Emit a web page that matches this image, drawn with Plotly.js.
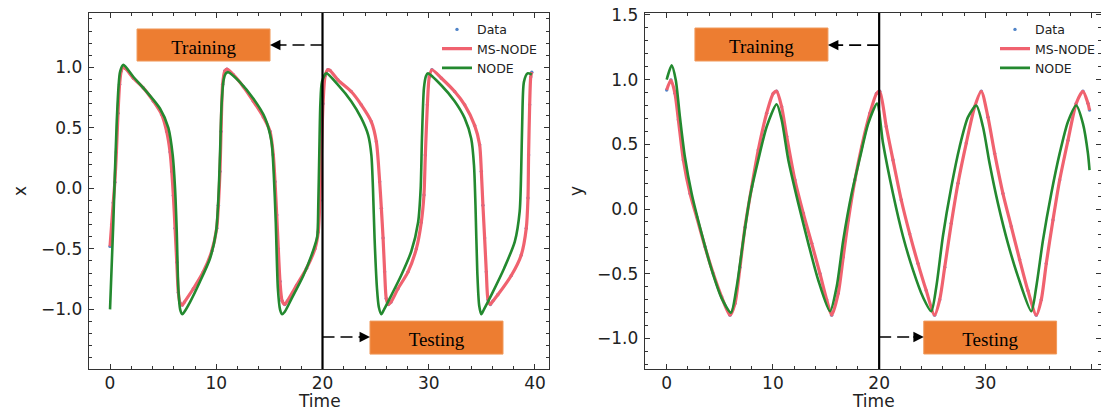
<!DOCTYPE html>
<html>
<head>
<meta charset="utf-8">
<script src="https://cdn.plot.ly/plotly-3.0.1.min.js"></script>
<style>
html,body{margin:0;padding:0;background:#fff;}
#chart{width:1101px;height:412px;}
</style>
</head>
<body>
<div id="chart"></div>
<script>
// ---- Left panel: x(t) ----
const tX = [0,0.15,0.3,0.45,0.6,0.75,0.9,1.05,1.2,1.45,2.2,3.13,4.08,4.86,5.33,5.65,5.81,5.96,6.12,6.28,6.43,6.6,6.8,7.0,7.84,8.78,9.57,10.04,10.2,10.35,10.45,10.6,10.8,11.0,11.6,12.55,13.49,14.43,15.06,15.37,15.53,15.69,15.84,16.0,16.2,16.45,16.7,17.57,18.5,19.29,19.6,19.75,19.9,20.05,20.25,20.5,20.7,21.46,22.7,23.65,24.6,25.07,25.38,25.54,25.7,25.85,26.0,26.2,26.45,27.1,28.05,28.83,29.3,29.55,29.68,29.87,30.05,30.3,31.2,32.44,33.38,34.32,34.79,34.95,35.1,35.26,35.42,35.58,35.8,36.05,36.5,37.77,38.71,39.18,39.34,39.4,39.5,39.6,39.7];
const xData = [-0.48,-0.30,-0.12,0.05,0.30,0.62,0.86,0.97,1.0,0.99,0.91,0.83,0.72,0.61,0.47,0.30,0.14,-0.06,-0.33,-0.61,-0.86,-0.95,-0.965,-0.94,-0.83,-0.69,-0.52,-0.33,-0.14,0.14,0.47,0.86,0.97,0.985,0.94,0.84,0.72,0.59,0.47,0.275,0.055,-0.22,-0.5,-0.77,-0.93,-0.96,-0.93,-0.80,-0.66,-0.50,-0.36,-0.1,0.3,0.7,0.93,0.98,0.975,0.895,0.80,0.69,0.55,0.385,0.055,-0.165,-0.41,-0.69,-0.91,-0.96,-0.94,-0.83,-0.69,-0.50,-0.28,-0.055,0.275,0.69,0.92,0.98,0.91,0.80,0.69,0.52,0.36,0.14,-0.14,-0.41,-0.69,-0.92,-0.96,-0.93,-0.88,-0.72,-0.55,-0.33,-0.08,0.275,0.69,0.92,0.96];
const xMsNode = xData.slice();
const tXNode = [0,0.31,0.63,0.94,1.25,2.2,3.13,4.7,5.49,5.9,6.12,6.28,6.43,6.6,6.8,7.0,7.53,8.47,9.41,9.98,10.2,10.35,10.5,10.7,10.9,11.13,12.2,13.5,14.6,15.2,15.4,15.6,15.8,16.0,16.2,16.45,17.1,18.2,19.1,19.5,19.6,19.7,19.8,19.95,20.36,21.5,22.7,23.65,24.3,24.6,24.75,24.9,25.13,25.3,25.54,25.8,26.5,27.4,28.36,29.0,29.24,29.36,29.55,29.75,29.93,31.2,32.44,33.38,34.0,34.26,34.4,34.57,34.75,34.95,35.2,35.9,37.1,38.1,38.56,38.7,38.8,38.96,39.3,39.7];
const xNode = [-1.0,-0.28,0.55,0.96,1.02,0.92,0.83,0.66,0.50,0.275,0.0,-0.36,-0.83,-1.0,-1.04,-1.02,-0.94,-0.77,-0.58,-0.36,-0.08,0.275,0.69,0.9,0.95,0.96,0.88,0.74,0.58,0.385,0.14,-0.28,-0.83,-1.0,-1.04,-1.02,-0.91,-0.72,-0.52,-0.4,-0.15,0.3,0.7,0.88,0.95,0.85,0.72,0.58,0.44,0.275,0.0,-0.41,-0.83,-0.98,-1.04,-1.0,-0.88,-0.72,-0.52,-0.28,0.0,0.41,0.83,0.93,0.95,0.85,0.72,0.58,0.41,0.19,-0.14,-0.69,-0.97,-1.04,-1.0,-0.88,-0.66,-0.44,-0.19,0.14,0.55,0.88,0.95,0.94];

// ---- Right panel: y(t) ----
const tY = [0,0.4,0.78,1.1,1.57,2.2,2.82,3.6,4.39,5.18,5.96,6.43,6.9,7.37,8.0,8.62,9.41,10.04,10.35,10.82,11.3,12.07,12.86,13.65,14.43,15.06,15.53,16.15,16.62,17.1,17.72,18.35,19.13,19.76,20.05,20.67,21.3,22.08,22.87,23.65,24.43,25.22,25.7,26.17,26.79,27.42,28.2,28.99,29.61,30.24,30.87,31.65,32.44,33.22,34.0,34.79,35.26,35.73,36.36,36.99,37.77,38.55,39.18,39.65,39.8];
const yData = [0.92,0.997,0.894,0.69,0.38,0.12,-0.06,-0.29,-0.50,-0.68,-0.82,-0.73,-0.45,-0.14,0.17,0.456,0.74,0.894,0.91,0.79,0.56,0.224,-0.033,-0.265,-0.50,-0.70,-0.82,-0.65,-0.37,-0.085,0.224,0.48,0.74,0.894,0.91,0.636,0.38,0.07,-0.19,-0.42,-0.63,-0.82,-0.70,-0.45,-0.11,0.2,0.51,0.79,0.91,0.71,0.43,0.12,-0.137,-0.39,-0.63,-0.82,-0.70,-0.42,-0.085,0.224,0.53,0.817,0.91,0.817,0.765];
const yMsNode = yData.slice();
const tYNode = [0,0.47,0.85,1.25,1.72,2.35,3.29,4.24,5.18,6.05,6.59,7.21,7.84,8.62,9.41,10.35,10.82,11.45,12.39,13.33,14.27,15.37,16.0,16.62,17.41,18.2,18.97,19.8,20.36,21.3,22.24,23.18,24.12,24.9,25.38,26.0,26.79,27.57,28.36,29.14,29.77,30.4,31.18,32.12,33.06,34.32,34.79,35.42,36.2,36.99,37.77,38.55,39.18,39.65,39.8];
const yNode = [1.0,1.11,1.0,0.71,0.40,0.12,-0.19,-0.47,-0.69,-0.80,-0.60,-0.24,0.095,0.38,0.636,0.81,0.69,0.38,0.044,-0.265,-0.55,-0.79,-0.60,-0.24,0.12,0.40,0.66,0.815,0.51,0.12,-0.21,-0.47,-0.68,-0.79,-0.60,-0.21,0.17,0.48,0.71,0.80,0.636,0.35,0.044,-0.265,-0.52,-0.79,-0.60,-0.24,0.12,0.43,0.675,0.80,0.66,0.43,0.30];

const seriesNames = ['Data','MS-NODE','NODE'];
const xTickVals = [0,10,20,30,40];
const splitTime = 20;
const boxLabels = ['Training','Testing'];
const axisLabels = {time:'Time', left:'x', right:'y'};

// ---- styling ----
const FONT = 'DejaVu Sans, sans-serif';
const FS = 17;
const C_DATA = 'rgba(50,110,190,0.85)';
const C_MS = '#f0626f';
const C_NODE = '#23892f';

function dataTrace(x, y, xa, ya, leg){
  return {x:x, y:y, xaxis:xa, yaxis:ya, type:'scatter', mode:'markers', name:seriesNames[0],
    legend:leg, marker:{size:3.4, color:C_DATA}};
}
function lineTrace(x, y, xa, ya, leg, name, color, w){
  return {x:x, y:y, xaxis:xa, yaxis:ya, type:'scatter', mode:'lines', name:name, legend:leg,
    line:{color:color, width:w, shape:'spline', smoothing:0.7}};
}

const traces = [
  dataTrace(tX, xData, 'x', 'y', 'legend'),
  lineTrace(tX, xMsNode, 'x', 'y', 'legend', seriesNames[1], C_MS, 3.2),
  lineTrace(tXNode, xNode, 'x', 'y', 'legend', seriesNames[2], C_NODE, 2.6),
  dataTrace(tY, yData, 'x2', 'y2', 'legend2'),
  lineTrace(tY, yMsNode, 'x2', 'y2', 'legend2', seriesNames[1], C_MS, 3.2),
  lineTrace(tYNode, yNode, 'x2', 'y2', 'legend2', seriesNames[2], C_NODE, 2.6)
];

function axisBase(){
  return {showline:true, linecolor:'#333', linewidth:1.3, mirror:'allticks',
    ticks:'inside', ticklen:5, tickwidth:1, tickcolor:'#333',
    showgrid:false, zeroline:false,
    tickfont:{family:FONT, size:FS, color:'#222'}};
}
function xAxis(domain, range, anchor){
  return Object.assign(axisBase(), {domain:domain, range:range, anchor:anchor,
    tickmode:'array', tickvals:xTickVals, ticklabelstandoff:-2,
    minor:{ticks:'inside', ticklen:3, tickcolor:'#333', dtick:2, tick0:0, showgrid:false}});
}
function yAxis(range, anchor, label){
  return Object.assign(axisBase(), {domain:[0,1], range:range, anchor:anchor,
    dtick:0.5, tick0:0, tickformat:'.1f', ticklabelstandoff:2,
    minor:{ticks:'inside', ticklen:3, tickcolor:'#333', dtick:0.1, tick0:0, showgrid:false},
    title:{text:label, font:{family:FONT, size:FS, color:'#222'}, standoff:10}});
}

// annotation boxes and arrows (positions in axis units)
const boxes = [
  {xa:'x', ya:'y', text:boxLabels[0], x0:2.54, x1:15.06, y0:1.052, y1:1.317, ay:1.184, dir:-1},
  {xa:'x', ya:'y', text:boxLabels[1], x0:24.47, x1:36.99, y0:-1.37, y1:-1.097, ay:-1.229, dir:1},
  {xa:'x2', ya:'y2', text:boxLabels[0], x0:2.66, x1:15.18, y0:1.144, y1:1.399, ay:1.267, dir:-1},
  {xa:'x2', ya:'y2', text:boxLabels[1], x0:24.2, x1:36.7, y0:-1.12, y1:-0.866, ay:-0.989, dir:1}
];

const shapes = [];
const annotations = [];
['x','x2'].forEach(function(xa, i){
  const ya = i === 0 ? 'y' : 'y2';
  shapes.push({type:'line', xref:xa, yref:ya+' domain', x0:splitTime, x1:splitTime, y0:0, y1:1,
    line:{color:'#000', width:2.2}});
  // "Time" axis label, placed under the axis centre
  annotations.push({xref:xa+' domain', yref:'paper', x:0.5, y:-0.1208, yanchor:'bottom', xanchor:'center',
    borderpad:0, text:axisLabels.time, showarrow:false, font:{family:FONT, size:FS, color:'#222'}});
});
boxes.forEach(function(b){
  shapes.push({type:'rect', xref:b.xa, yref:b.ya, x0:b.x0, x1:b.x1, y0:b.y0, y1:b.y1,
    fillcolor:'#ED7D31', line:{color:'#f09a5c', width:1}, layer:'above',
    label:{text:b.text, font:{family:'Liberation Serif, Times New Roman, serif', size:19, color:'#000'}}});
  const head = b.dir < 0 ? b.x1 : b.x0;
  const tailEnd = b.dir < 0 ? b.x1 + 0.9 : b.x0 - 0.9;
  shapes.push({type:'line', xref:b.xa, yref:b.ya, x0:splitTime, x1:tailEnd, y0:b.ay, y1:b.ay,
    line:{color:'#000', width:1.6, dash:'12px,6px'}});
  annotations.push({xref:b.xa, yref:b.ya, x:head, y:b.ay, text:'', showarrow:true,
    arrowhead:2, arrowsize:1.3, arrowwidth:1.6, arrowcolor:'#000',
    ax: b.dir < 0 ? 12 : -12, ay:0, standoff:0});
});

const legendBase = {font:{family:FONT, size:12.5, color:'#222'}, bgcolor:'rgba(0,0,0,0)',
  xanchor:'left', yanchor:'top', itemwidth:30, tracegroupgap:0, borderwidth:0};

const layout = {
  width:1101, height:412,
  margin:{l:0, r:0, t:13, b:43},
  paper_bgcolor:'#fff', plot_bgcolor:'#fff',
  font:{family:FONT, color:'#222'},
  xaxis: xAxis([89/1101, 549/1101], [-1.98, 41.32], 'y'),
  yaxis: yAxis([-1.493, 1.449], 'x', axisLabels.left),
  xaxis2: xAxis([645/1101, 1], [-2.04, 40.88], 'y2'),
  yaxis2: yAxis([-1.236, 1.515], 'x2', axisLabels.right),
  legend: Object.assign({}, legendBase, {x:437/1101, y:0.995}),
  legend2: Object.assign({}, legendBase, {x:995/1101, y:0.995}),
  shapes: shapes,
  annotations: annotations,
  showlegend:true
};

Plotly.newPlot('chart', traces, layout, {displayModeBar:false, staticPlot:true});
</script>
</body>
</html>
